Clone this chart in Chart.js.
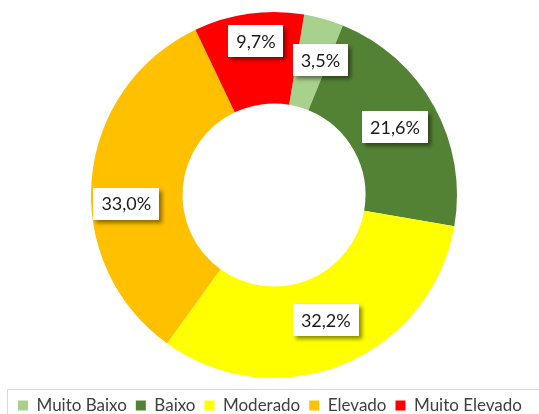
<!DOCTYPE html>
<html>
<head>
<meta charset="utf-8">
<script src="https://cdn.jsdelivr.net/npm/chart.js@4/dist/chart.umd.min.js"></script>
<style>
  html, body { margin: 0; padding: 0; background: #fff; overflow: hidden; }
  #wrap { position: relative; width: 539px; height: 424px; }
</style>
</head>
<body>
<div id="wrap"><canvas id="c" width="539" height="424"></canvas></div>
<script>
const categories = ['Muito Baixo', 'Baixo', 'Moderado', 'Elevado', 'Muito Elevado'];
const values = [3.5, 21.6, 32.2, 33.0, 9.7];
const colors = ['#a9d18e', '#548235', '#ffff00', '#ffc000', '#ff0000'];

// label nudges (layout only)
const labelNudge = [[9, -3], [1, -1], [0, -2], [-11, 21], [1, -18]];

const labelPlugin = {
  id: 'boxLabels',
  afterDatasetsDraw(chart) {
    const ctx = chart.ctx;
    const meta = chart.getDatasetMeta(0);
    ctx.save();
    ctx.font = '18px Lato, "Open Sans", sans-serif';
    ctx.textAlign = 'center';
    ctx.textBaseline = 'middle';
    meta.data.forEach((arc, i) => {
      const p = arc.tooltipPosition();
      const x = p.x + labelNudge[i][0];
      const y = p.y + labelNudge[i][1];
      const txt = chart.data.datasets[0].data[i].toFixed(1).replace('.', ',') + '%';
      const w = ctx.measureText(txt).width + 16;
      const h = 32;
      ctx.save();
      ctx.shadowColor = 'rgba(0,0,0,0.45)';
      ctx.shadowBlur = 4;
      ctx.shadowOffsetX = 3;
      ctx.shadowOffsetY = 3;
      ctx.fillStyle = '#ffffff';
      ctx.fillRect(Math.round(x - w / 2), Math.round(y - h / 2), Math.round(w), h);
      ctx.restore();
      ctx.fillStyle = '#1a1a1a';
      ctx.fillText(txt, x, y + 1);
    });
    ctx.restore();
  }
};

const legendBorder = {
  id: 'legendBorder',
  afterDraw(chart) {
    const lg = chart.legend;
    const ctx = chart.ctx;
    ctx.save();
    ctx.strokeStyle = '#d9d9d9';
    ctx.lineWidth = 1;
    ctx.strokeRect(7.5, lg.top + 1.5, 560, 60);
    ctx.restore();
  }
};

new Chart(document.getElementById('c'), {
  type: 'doughnut',
  data: {
    labels: categories,
    datasets: [{
      data: values,
      backgroundColor: colors,
      borderWidth: 0
    }]
  },
  options: {
    responsive: false,
    animation: false,
    rotation: 9.5,
    radius: 183,
    cutout: '50%',
    layout: { padding: { top: 2, left: 9, right: 0, bottom: 0 } },
    plugins: {
      tooltip: { enabled: false },
      legend: {
        position: 'bottom',
        align: 'start',
        labels: {
          boxWidth: 10,
          boxHeight: 10,
          padding: 9,
          color: '#404040',
          font: { size: 17, family: 'Lato, "Open Sans", sans-serif' }
        }
      }
    }
  },
  plugins: [labelPlugin, legendBorder]
});
</script>
</body>
</html>
